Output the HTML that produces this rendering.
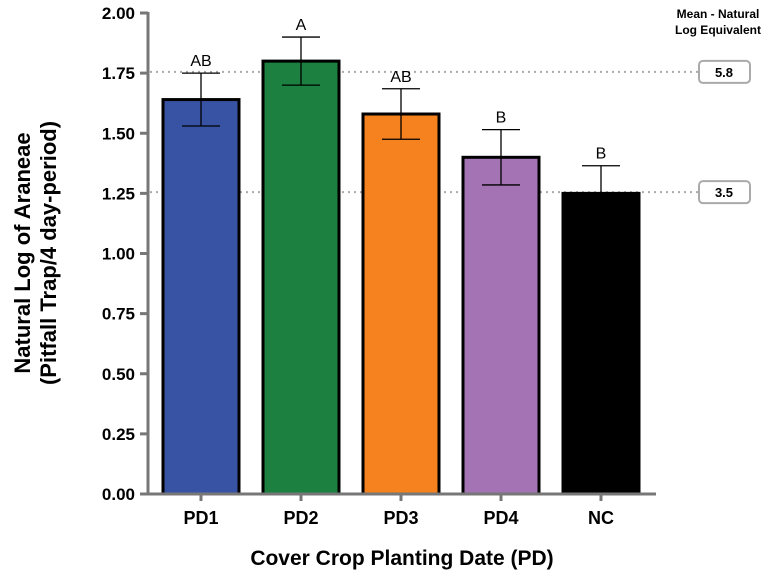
<!DOCTYPE html>
<html><head><meta charset="utf-8"><style>
body{margin:0;background:#fff;}
svg{display:block;font-family:"Liberation Sans",Arial,sans-serif;}
</style></head><body>
<svg id="chart" width="768" height="577"></svg>
<script>
const categories=["PD1","PD2","PD3","PD4","NC"];
const means=[1.64,1.80,1.58,1.40,1.25];
const errors=[0.11,0.10,0.105,0.115,0.115];
const letters=["AB","A","AB","B","B"];
const colors=["#3953a4","#1b8040","#f5821f","#a373b3","#000000"];
const yTicks=[0,0.25,0.5,0.75,1.0,1.25,1.5,1.75,2.0];
const refLines=[1.755,1.255];
const refLabels=["5.8","3.5"];
const svg=document.getElementById('chart');
const NS="http://www.w3.org/2000/svg";
const y0=494,y1=13,x0=148;
function y(v){return y0-(v/2)*(y0-y1);}
function xc(i){return 201+i*100;}
function mk(t,a,txt){const e=document.createElementNS(NS,t);for(const k in a)e.setAttribute(k,a[k]);if(txt!==undefined)e.textContent=txt;svg.appendChild(e);return e;}
refLines.forEach((v,i)=>{
 let l=mk('line',{x1:150,x2:698,y1:y(v),y2:y(v),stroke:'#aaa','stroke-width':2,'stroke-dasharray':'2,4'});
 
 
 let r=mk('rect',{x:699,y:y(v)-11,width:51,height:22,rx:4,fill:'#fff',stroke:'#aaa','stroke-width':2});
 
 
 let t=mk('text',{x:724,y:y(v)+5,'text-anchor':'middle','font-size':13,'font-weight':'bold'},refLabels[i]);
 
 
});
let h1=mk('text',{x:718,y:18,'text-anchor':'middle','font-size':12,'font-weight':'bold'},'Mean -  Natural');


let h2=mk('text',{x:718,y:34,'text-anchor':'middle','font-size':12,'font-weight':'bold'},'Log Equivalent');


categories.forEach((c,i)=>{
 const cx=xc(i);
 let b=mk('rect',{x:cx-38,y:y(means[i]),width:76,height:y0-y(means[i]),fill:colors[i],stroke:'#000','stroke-width':3});
 
 
 const top=y(means[i]+errors[i]),bot=y(means[i]-errors[i]);
 let e=mk('path',{d:`M${cx},${top}V${bot}M${cx-19},${top}H${cx+19}M${cx-19},${bot}H${cx+19}`,stroke:'#000','stroke-width':1.3,fill:'none'});
 
 
 let s=mk('text',{x:cx,y:top-7,'text-anchor':'middle','font-size':16},letters[i]);
 
 
 let t=mk('text',{x:cx,y:524,'text-anchor':'middle','font-size':18,'font-weight':'bold'},c);
 
 
 let tk=mk('line',{x1:cx,x2:cx,y1:y0,y2:y0+7,stroke:'#777','stroke-width':3});
 
 
});
let ya=mk('line',{x1:x0,x2:x0,y1:y1-1,y2:y0+1,stroke:'#777','stroke-width':3});


let xa=mk('line',{x1:x0-1,x2:656,y1:y0,y2:y0,stroke:'#777','stroke-width':3});


yTicks.forEach(v=>{
 let l=mk('line',{x1:x0-8,x2:x0,y1:y(v),y2:y(v),stroke:'#777','stroke-width':3});
 
 
 let t=mk('text',{x:x0-13,y:y(v)+6,'text-anchor':'end','font-size':17,'font-weight':'bold'},v.toFixed(2));
 
 
});
let xt=mk('text',{x:402,y:565,'text-anchor':'middle','font-size':21,'font-weight':'bold'},'Cover Crop Planting Date (PD)');


let yt=mk('text',{x:0,y:0,'text-anchor':'middle','font-size':22,'font-weight':'bold',transform:'translate(30,253) rotate(-90)'},'Natural Log of Araneae');


let yt2=mk('text',{x:0,y:0,'text-anchor':'middle','font-size':22,'font-weight':'bold',transform:'translate(56,253) rotate(-90)'},'(Pitfall Trap/4 day-period)');


</script>
</body></html>
